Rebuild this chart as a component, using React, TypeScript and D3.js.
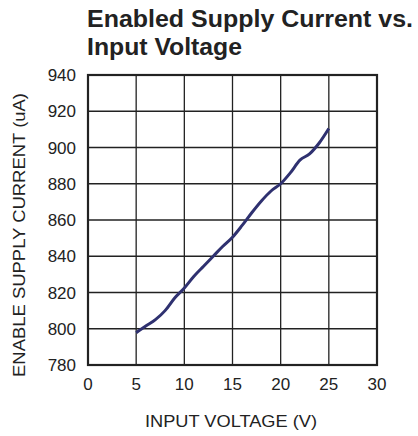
import React from 'react';
import * as d3 from 'd3';

// input voltage (V)
const voltage = [5, 6, 7, 8, 9, 10, 11, 12, 13, 14, 15, 16, 17, 18, 19, 20, 21, 22, 23, 24, 25];
// enabled supply current (uA)
const current = [797.8, 801.5, 805, 810, 817, 822.5, 829, 834.5, 840, 845.5, 850.5, 857, 864, 870.5, 876, 880, 886, 893, 896.5, 902.5, 910.5];

const xTicks = [0, 5, 10, 15, 20, 25, 30];
const yTicks = [780, 800, 820, 840, 860, 880, 900, 920, 940];

const font = '"Liberation Sans", Arial, sans-serif';

const App = () => {
  const left = 88;
  const right = 377;
  const top = 75;
  const bottom = 365;

  const x = d3.scaleLinear().domain([0, 30]).range([left, right]);
  const y = d3.scaleLinear().domain([780, 940]).range([bottom, top]);

  const line = d3
    .line<number>()
    .x((d, i) => x(voltage[i]))
    .y((d) => y(d))
    .curve(d3.curveMonotoneX);

  return (
    <svg
      width={418}
      height={436}
      style={{ position: 'absolute', left: 0, top: 0, background: '#fff' }}
    >
      <text x={87} y={27} fontFamily={font} fontWeight="bold" fontSize={23} fill="#222"
        textLength={326} lengthAdjust="spacingAndGlyphs">
        Enabled Supply Current vs.
      </text>
      <text x={87} y={55} fontFamily={font} fontWeight="bold" fontSize={23} fill="#222"
        textLength={155} lengthAdjust="spacingAndGlyphs">
        Input Voltage
      </text>

      {/* grid */}
      {xTicks.map((t) => (
        <line key={'gx' + t} x1={x(t)} x2={x(t)} y1={top} y2={bottom} stroke="#222" strokeWidth={1.3} />
      ))}
      {yTicks.map((t) => (
        <line key={'gy' + t} x1={left} x2={right} y1={y(t)} y2={y(t)} stroke="#222" strokeWidth={1.3} />
      ))}
      <rect x={left} y={top} width={right - left} height={bottom - top} fill="none" stroke="#222" strokeWidth={2.2} />

      {/* tick labels */}
      {yTicks.map((t) => (
        <text key={'ly' + t} x={76} y={y(t) + 6} textAnchor="end" fontFamily={font} fontSize={17} fill="#222">
          {t}
        </text>
      ))}
      {xTicks.map((t) => (
        <text key={'lx' + t} x={x(t)} y={390} textAnchor="middle" fontFamily={font} fontSize={17} fill="#222">
          {t}
        </text>
      ))}

      <text x={231} y={427} textAnchor="middle" fontFamily={font} fontSize={17} fill="#222"
        textLength={172} lengthAdjust="spacingAndGlyphs">
        INPUT VOLTAGE (V)
      </text>
      <text
        transform={`translate(25,${(top + bottom) / 2 + 15}) rotate(-90)`}
        textAnchor="middle"
        fontFamily={font}
        fontSize={17}
        fill="#222"
        textLength={284}
        lengthAdjust="spacingAndGlyphs"
      >
        ENABLE SUPPLY CURRENT (uA)
      </text>

      <path d={line(current) || ''} fill="none" stroke="#2f3170" strokeWidth={3} strokeLinejoin="round" />
    </svg>
  );
};

export default App;
